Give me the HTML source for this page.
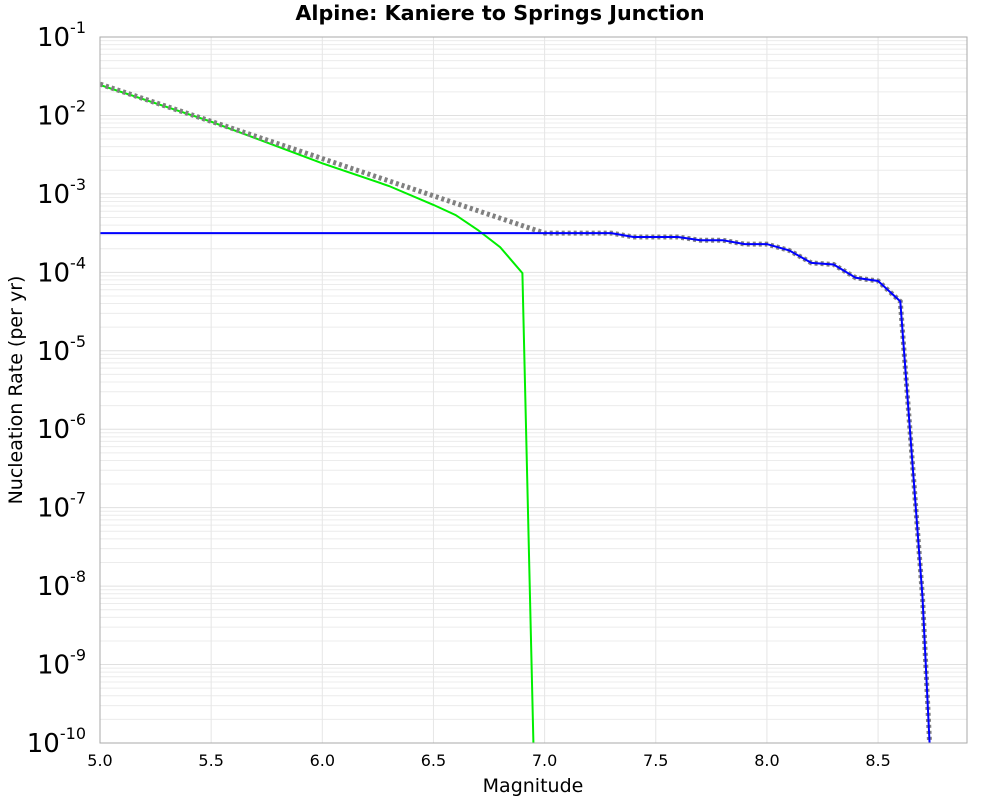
<!DOCTYPE html>
<html><head><meta charset="utf-8"><style>
html,body{margin:0;background:#fff;font-family:"Liberation Sans","DejaVu Sans",sans-serif;width:1000px;height:800px;overflow:hidden}
svg{display:block}
</style></head><body>
<svg id="chart" width="1000" height="800" xmlns="http://www.w3.org/2000/svg">
<text x="500" y="20" text-anchor="middle" font-size="20.7" font-weight="bold" font-family="DejaVu Sans,Liberation Sans,sans-serif">Alpine: Kaniere to Springs Junction</text>
<g id="grid"></g>
<g id="series" clip-path="url(#clip)"></g>
<clipPath id="clip"><rect x="100" y="37" width="867" height="706"/></clipPath>
<rect x="100" y="37" width="867" height="706" fill="none" stroke="#aaa" stroke-width="1"/>
<g id="axes"></g>
<text x="533" y="792" text-anchor="middle" font-size="19" font-family="DejaVu Sans,Liberation Sans,sans-serif">Magnitude</text>
<text transform="translate(22,390) rotate(-90)" text-anchor="middle" font-size="19" font-family="DejaVu Sans,Liberation Sans,sans-serif">Nucleation Rate (per yr)</text>
</svg>
<script>
const xTicks=[5.0,5.5,6.0,6.5,7.0,7.5,8.0,8.5];
const yDecades=[-1,-2,-3,-4,-5,-6,-7,-8,-9,-10];
const totalMag=[5.0,7.0,7.1,7.2,7.3,7.4,7.5,7.6,7.7,7.8,7.9,8.0,8.1,8.2,8.3,8.4,8.5,8.6,8.7,8.8];
const totalLog=[-1.6,-3.5,-3.5,-3.5,-3.5,-3.55,-3.55,-3.55,-3.59,-3.59,-3.64,-3.64,-3.72,-3.88,-3.9,-4.07,-4.11,-4.37,-8.14,-14];
const blueMag=[5.0,7.0,7.1,7.2,7.3,7.4,7.5,7.6,7.7,7.8,7.9,8.0,8.1,8.2,8.3,8.4,8.5,8.6,8.7,8.8];
const blueLog=[-3.5,-3.5,-3.5,-3.5,-3.5,-3.55,-3.55,-3.55,-3.59,-3.59,-3.64,-3.64,-3.72,-3.88,-3.9,-4.07,-4.11,-4.37,-8.14,-14];
const greenMag=[5.0,5.5,6.0,6.3,6.5,6.6,6.7,6.8,6.9,6.95];
const greenLog=[-1.61,-2.08,-2.61,-2.9,-3.14,-3.27,-3.46,-3.68,-4.01,-10.05];
const NS="http://www.w3.org/2000/svg";
const X=m=>100+(m-5.0)*(867/3.9);
const Y=l=>37+(-1-l)*(706/9);
function el(t,a,p){const e=document.createElementNS(NS,t);for(const k in a)e.setAttribute(k,a[k]);p.appendChild(e);return e;}
const grid=document.getElementById('grid'),axes=document.getElementById('axes'),ser=document.getElementById('series');
for(let d=-10;d<-1;d++){for(let k=2;k<=9;k++){const y=Y(d+Math.log10(k));
const ln=el('line',{x1:100,x2:967,y1:y,y2:y,stroke:'#ececec','stroke-width':1},grid);

}}
yDecades.forEach(d=>{const y=Y(d);
const ln=el('line',{x1:100,x2:967,y1:y,y2:y,stroke:'#e0e0e0','stroke-width':1},grid);


const t=el('text',{x:86,y:y+9,'text-anchor':'end','font-size':26,'font-family':'DejaVu Sans,Liberation Sans,sans-serif'},axes);


t.textContent='10';
const s=el('tspan',{dy:-13,'font-size':16},t);s.textContent=String(d);});
xTicks.forEach(m=>{const x=X(m);
const ln=el('line',{x1:x,x2:x,y1:37,y2:743,stroke:'#e6e6e6','stroke-width':1},grid);


const t=el('text',{x:x,y:766,'text-anchor':'middle','font-size':16,'font-family':'DejaVu Sans,Liberation Sans,sans-serif'},axes);


t.textContent=m.toFixed(1);});
function pts(ms,ls){return ms.map((m,i)=>X(m).toFixed(1)+','+Y(ls[i]).toFixed(1)).join(' ');}
const g=el('polyline',{points:pts(greenMag,greenLog),fill:'none',stroke:'#00ee00','stroke-width':2},ser);


const t=el('polyline',{points:pts(totalMag,totalLog),fill:'none',stroke:'#808080','stroke-width':5,'stroke-dasharray':'3,3'},ser);


const b=el('polyline',{points:pts(blueMag,blueLog),fill:'none',stroke:'#0000ff','stroke-width':2},ser);


</script>
</body></html>
